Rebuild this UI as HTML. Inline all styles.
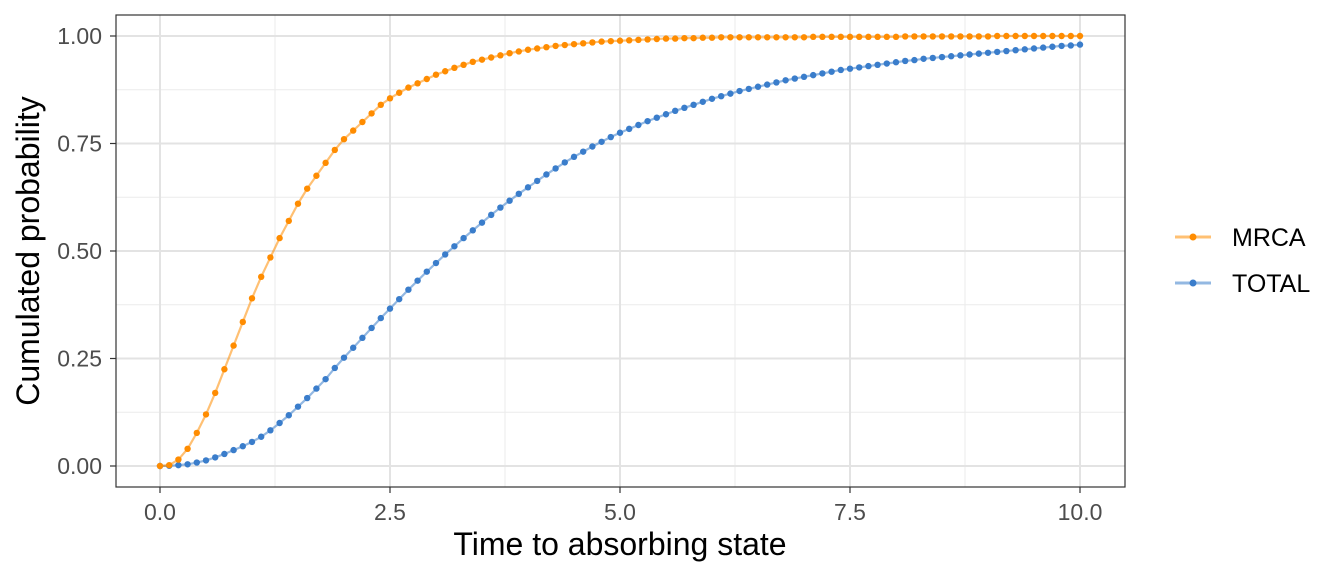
<!DOCTYPE html>
<html><head><meta charset="utf-8"><style>
html,body{margin:0;padding:0;background:#fff;}
svg{display:block;font-family:"Liberation Sans",Arial,sans-serif;}
</style></head><body>
<svg id="chart" width="1344" height="576" viewBox="0 0 1344 576">
<rect x="0" y="0" width="1344" height="576" fill="#fff"/>
<g id="grid"></g>
<g id="series"></g>
<rect x="116" y="15" width="1009" height="472" fill="none" stroke="#333" stroke-width="1.2"/>
<g id="axes"></g>
<text x="620" y="555" text-anchor="middle" font-size="32" fill="#000">Time to absorbing state</text>
<text transform="translate(39,251) rotate(-90)" text-anchor="middle" font-size="32" fill="#000">Cumulated probability</text>
<g>
<g>
<line x1="1175" y1="237" x2="1211" y2="237" stroke="#FF8C00" stroke-opacity="0.55" stroke-width="3"/>
<circle cx="1193" cy="237" r="3.5" fill="#FF8C00"/>
<text x="1232" y="246" font-size="25" fill="#000">MRCA</text>
</g>
<g>
<line x1="1175" y1="283" x2="1211" y2="283" stroke="#3A7DCB" stroke-opacity="0.55" stroke-width="3"/>
<circle cx="1193" cy="283" r="3.5" fill="#3A7DCB"/>
<text x="1232" y="292" font-size="25" fill="#000">TOTAL</text>
</g>
</g>
</svg>
<script>
const mrcaValues=[0,0.002,0.015,0.04,0.077,0.12,0.17,0.225,0.28,0.335,0.39,
0.44,0.485,0.53,0.57,0.61,0.645,0.675,0.705,0.735,0.76,
0.78,0.80,0.82,0.84,0.855,0.868,0.88,0.89,0.90,0.91,
0.918,0.926,0.933,0.94,0.945,0.95,0.955,0.96,0.964,0.968,
0.971,0.974,0.977,0.979,0.981,0.983,0.985,0.987,0.988,0.989,
0.990,0.991,0.992,0.993,0.994,0.994,0.995,0.995,0.996,0.996,
0.997,0.997,0.997,0.997,0.997,0.997,0.997,0.997,0.997,0.997,
0.998,0.998,0.998,0.998,0.998,0.998,0.998,0.998,0.998,0.998,
0.999,0.999,0.999,0.999,0.999,0.999,0.999,0.999,0.999,0.999,
1,1,1,1,1,1,1,1,1,1];
const totalValues=[0,0.0005,0.002,0.004,0.008,0.013,0.02,0.028,0.037,0.046,0.056,
0.068,0.083,0.1,0.118,0.138,0.158,0.18,0.202,0.228,0.252,
0.275,0.298,0.321,0.344,0.366,0.388,0.41,0.431,0.452,0.472,
0.492,0.511,0.53,0.548,0.566,0.584,0.601,0.617,0.633,0.648,
0.663,0.678,0.692,0.706,0.719,0.731,0.743,0.754,0.765,0.775,
0.784,0.793,0.802,0.810,0.818,0.826,0.833,0.840,0.847,0.854,
0.860,0.866,0.872,0.877,0.882,0.887,0.892,0.897,0.901,0.905,
0.909,0.913,0.917,0.921,0.924,0.927,0.930,0.933,0.936,0.939,
0.942,0.944,0.947,0.949,0.951,0.953,0.955,0.957,0.959,0.961,
0.963,0.965,0.967,0.969,0.971,0.973,0.975,0.977,0.978,0.980];
const xTicks=[0,2.5,5,7.5,10];
const xTickLabels=["0.0","2.5","5.0","7.5","10.0"];
const yTicks=[0,0.25,0.5,0.75,1];
const yTickLabels=["0.00","0.25","0.50","0.75","1.00"];
const timeStep=0.1;

const NS="http://www.w3.org/2000/svg";
const xs=v=>160+v*92;
const ys=v=>466-v*430;
function mk(tag,attrs,parent){const e=document.createElementNS(NS,tag);for(const k in attrs)e.setAttribute(k,attrs[k]);parent.appendChild(e);return e;}
const grid=document.getElementById('grid'),axes=document.getElementById('axes'),series=document.getElementById('series');
for(let i=0;i<xTicks.length-1;i++){const m=(xTicks[i]+xTicks[i+1])/2;
 const l=mk('line',{x1:xs(m),x2:xs(m),y1:15,y2:487,stroke:'#ebebeb','stroke-width':1},grid);
 
 }
for(let i=0;i<yTicks.length-1;i++){const m=(yTicks[i]+yTicks[i+1])/2;
 const l=mk('line',{x1:116,x2:1125,y1:ys(m),y2:ys(m),stroke:'#ebebeb','stroke-width':1},grid);
 
 }
xTicks.forEach((t,i)=>{
 const l=mk('line',{x1:xs(t),x2:xs(t),y1:15,y2:487,stroke:'#e3e3e3','stroke-width':2},grid);
 
 
 const tk=mk('line',{x1:xs(t),x2:xs(t),y1:487,y2:493,stroke:'#333','stroke-width':1.2},axes);
 
 
 const tx=mk('text',{x:xs(t),y:520,'text-anchor':'middle','font-size':23,fill:'#4d4d4d'},axes);
 tx.textContent=xTickLabels[i];
 
 
});
yTicks.forEach((t,i)=>{
 const l=mk('line',{x1:116,x2:1125,y1:ys(t),y2:ys(t),stroke:'#e3e3e3','stroke-width':2},grid);
 
 
 const tk=mk('line',{x1:110,x2:116,y1:ys(t),y2:ys(t),stroke:'#333','stroke-width':1.2},axes);
 
 
 const tx=mk('text',{x:102,y:ys(t)+8,'text-anchor':'end','font-size':23,fill:'#4d4d4d'},axes);
 tx.textContent=yTickLabels[i];
 
 
});
function drawSeries(vals,color,name){
 const g=mk('g',{},series);
 
 
 const pts=vals.map((v,i)=>xs(i*timeStep)+','+ys(v)).join(' ');
 const pl=mk('polyline',{points:pts,fill:'none',stroke:color,'stroke-opacity':0.55,'stroke-width':2.2},g);
 
 
 vals.forEach((v,i)=>{
  const c=mk('circle',{cx:xs(i*timeStep),cy:ys(v),r:3.2,fill:color},g);
  
  
 });
}
drawSeries(totalValues,'#3A7DCB','total');
drawSeries(mrcaValues,'#FF8C00','mrca');
</script>
</body></html>
